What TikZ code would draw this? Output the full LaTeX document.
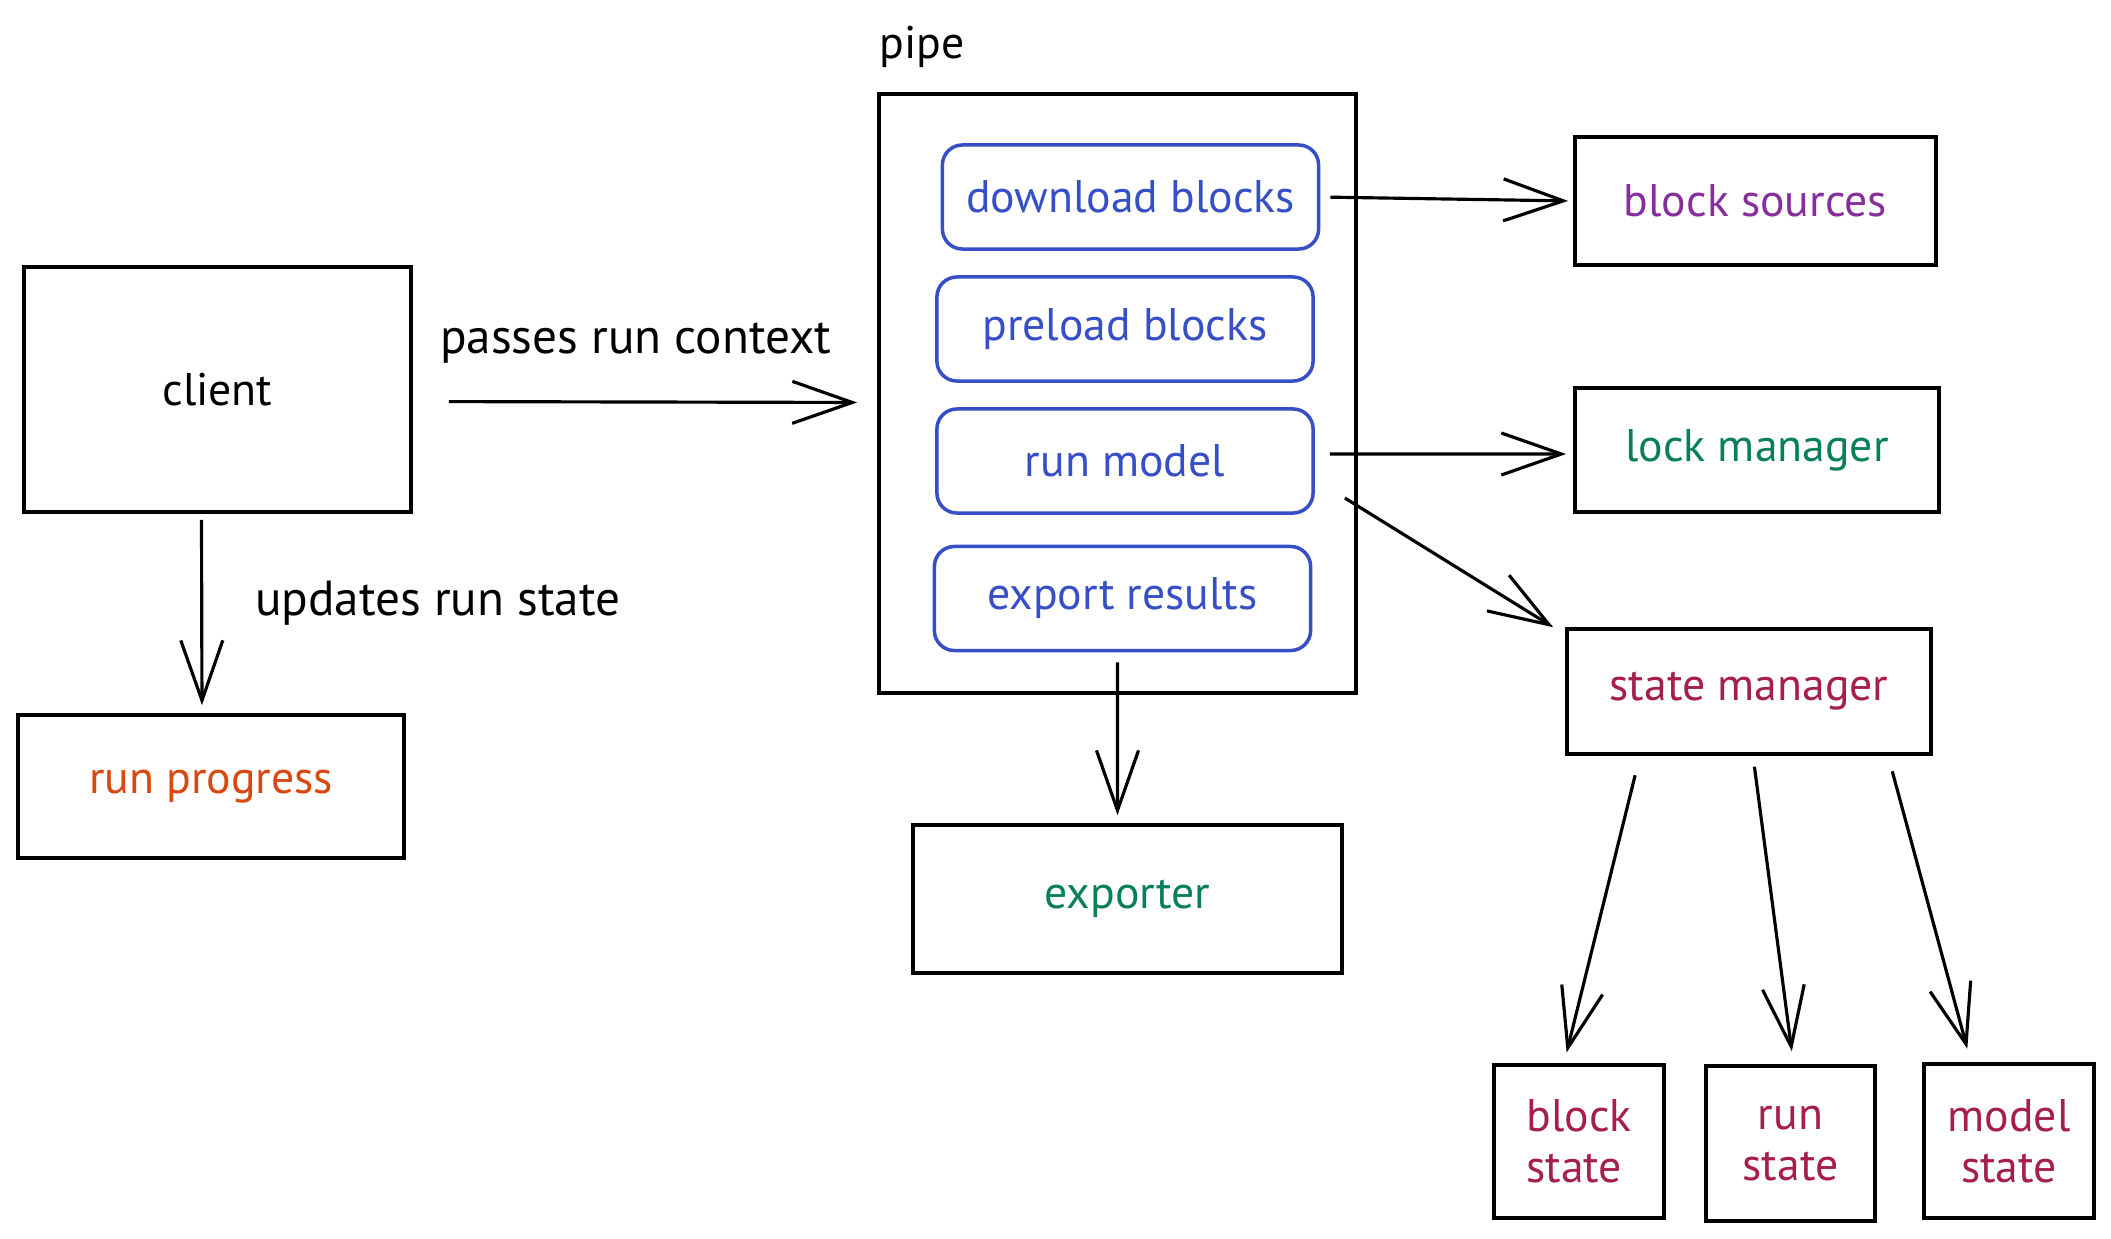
\documentclass[tikz,border=0pt]{standalone}
\usepackage{fontspec}
\setmainfont{PT Sans}
\usepackage{xcolor}
\usetikzlibrary{arrows.meta,positioning}
\definecolor{exblue}{HTML}{364FC7}
\definecolor{exviolet}{HTML}{862E9C}
\definecolor{exteal}{HTML}{087F5B}
\definecolor{exgrape}{HTML}{A61E4D}
\definecolor{exorange}{HTML}{D9480F}

\begin{document}
\begin{tikzpicture}[x=0.01cm,y=-0.01cm,
  txt/.style={font=\fontsize{13}{14.5}\selectfont},
  edgetxt/.style={font=\fontsize{14}{16}\selectfont},
  box/.style={txt,draw,line width=1pt,inner sep=2pt},
  stage/.style={box,draw=exblue,text=exblue,rounded corners=2mm,minimum width=3.76cm,minimum height=1.04cm},
  link/.style={line width=0.9pt,-{Straight Barb[length=6mm,width=4.2mm,line width=0.9pt]}}]
\useasboundingbox (0,0) rectangle (2111,1239);
\node[box,minimum width=3.87cm,minimum height=2.45cm] (client) at (217.5,389.5) {client};
\node[box,text=exorange,minimum width=3.86cm,minimum height=1.43cm] (rp) at (211,786.5) {run progress};
\node[box,minimum width=4.77cm,minimum height=5.99cm] (pipe) at (1117.5,393.5) {};
\node[txt] (pipelbl) at (922,47) {pipe};
\node[stage] (dl) at (1130.5,197) {download blocks};
\node[stage] (pl) at (1125,329) {preload blocks};
\node[stage] (rm) at (1125,461) {run model};
\node[stage] (er) at (1122.5,598.5) {export results};
\node[box,text=exviolet,minimum width=3.61cm,minimum height=1.28cm] (bsrc) at (1755.5,201) {block sources};
\node[box,text=exteal,minimum width=3.64cm,minimum height=1.24cm] (lm) at (1757,450) {lock manager};
\node[box,text=exgrape,minimum width=3.64cm,minimum height=1.25cm] (sm) at (1749,691.5) {state manager};
\node[box,text=exteal,minimum width=4.29cm,minimum height=1.48cm] (ex) at (1127.5,899) {exporter};
\node[box,text=exgrape,align=left,minimum width=1.7cm,minimum height=1.53cm] (bst) at (1579,1141.5) {block\\state};
\node[box,text=exgrape,align=center,minimum width=1.69cm,minimum height=1.55cm] (rst) at (1790.5,1143.5) {run\\state};
\node[box,text=exgrape,align=center,minimum width=1.7cm,minimum height=1.54cm] (mst) at (2009,1141) {model\\state};
\draw[link,shorten <=3.6mm,shorten >=2mm] ([yshift=-1.2mm]client.east) -- node[edgetxt,pos=0.48,yshift=5.9mm] {passes run context} ([yshift=-0.9mm]pipe.west);
\draw[link,shorten <=0.6mm,shorten >=0.8mm] ([xshift=-1.6mm]client.south) -- node[edgetxt,pos=0.45,anchor=west,xshift=4mm] {updates run state} ([xshift=-0.9mm]rp.north);
\draw[link,shorten <=1mm,shorten >=0.5mm] (dl.east) -- (bsrc.west);
\draw[link,shorten <=1.5mm,shorten >=0.7mm] ([yshift=0.7mm]rm.east) -- ([yshift=-0.4mm]lm.west);
\draw[link] ([xshift=3mm,yshift=-3.7mm]rm.east) -- ([xshift=-1.2mm]sm.north west);
\draw[link,shorten <=1mm,shorten >=0.8mm] ([xshift=-0.5mm]er.south) -- ([xshift=-1mm]ex.north);
\draw[link,shorten <=2mm,shorten >=1.1mm] ([xshift=-10.9mm]sm.south) -- ([xshift=-1.5mm]bst.north);
\draw[link,shorten <=1.1mm,shorten >=1.3mm] ([xshift=0.4mm]sm.south) -- ([xshift=0.3mm]rst.north);
\draw[link,shorten <=1.6mm,shorten >=1.4mm] ([xshift=13.9mm]sm.south) -- ([xshift=-3.8mm]mst.north);
\end{tikzpicture}
\end{document}
